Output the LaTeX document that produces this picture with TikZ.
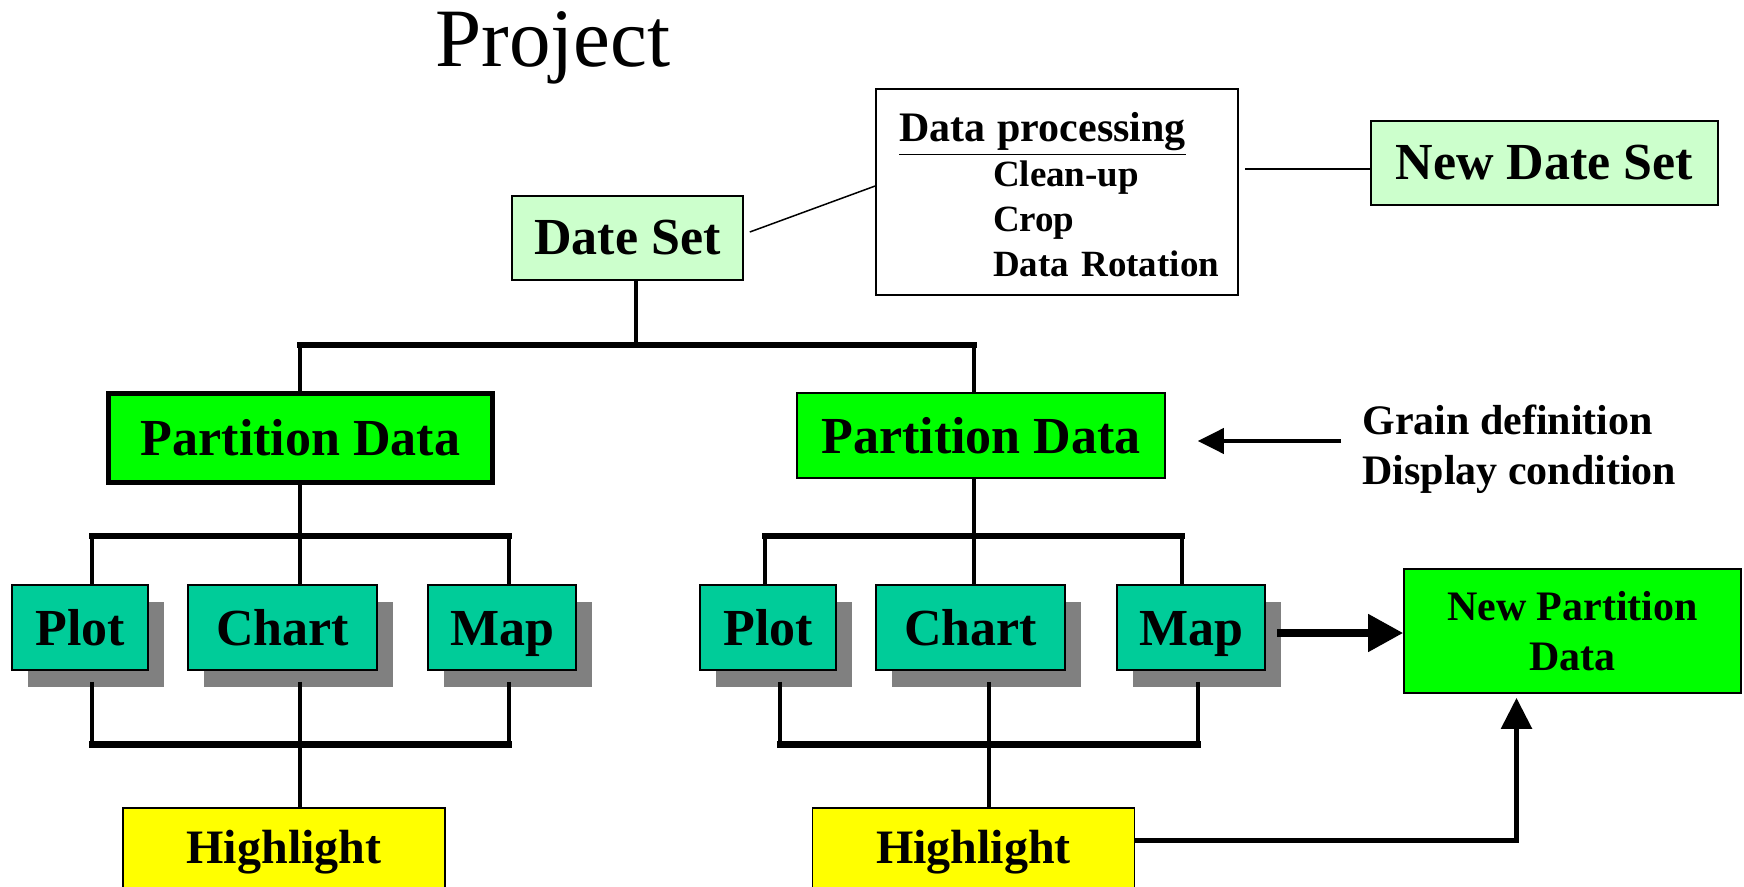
\documentclass[tikz,border=0pt]{standalone}
\usepackage{fontspec}
\setmainfont{Liberation Serif}
\usetikzlibrary{arrows.meta,shadows}

\definecolor{paleGreen}{HTML}{CCFFCC}
\definecolor{brightGreen}{HTML}{00FF00}
\definecolor{tealBox}{HTML}{00CC99}
\definecolor{hiYellow}{HTML}{FFFF00}
\definecolor{shadeGray}{HTML}{808080}

\begin{document}
\begin{tikzpicture}[x=0.5pt, y=-0.5pt,
		datebox/.style = {shape=rectangle, draw, line width=0.8pt, inner sep=0pt,
			font=\bfseries\fontsize{26}{30}\selectfont},
		setbox/.style = {datebox, fill=paleGreen, minimum height=42pt},
		partbox/.style = {datebox, fill=brightGreen},
		viewbox/.style = {datebox, fill=tealBox, minimum height=42.5pt,
			text height=17.7pt, text depth=0pt,
			drop shadow={shadow xshift=7.75pt, shadow yshift=-8.25pt,
				fill=shadeGray, opacity=1}},
		hlbox/.style = {datebox, fill=hiYellow, minimum width=161pt, minimum height=44pt,
			font=\bfseries\fontsize{24}{28}\selectfont},
		procbox/.style = {datebox, fill=white, minimum width=181pt, minimum height=103pt,
			text width=158pt, inner xsep=11.5pt, align=left,
			font=\bfseries\fontsize{18.5}{22.5}\selectfont},
		sidenote/.style = {inner sep=0pt, font=\bfseries\fontsize{21}{25}\selectfont},
		riser/.style = {line width=2pt},
		busbar/.style = {line width=3.3pt, line cap=rect},
		thinline/.style = {line width=0.75pt},
		fatarrow/.style = {line width=3.8pt, -{Triangle[length=17.5pt,width=18pt]}},
		hlarrow/.style = {line width=2.7pt, -{Triangle[length=15.5pt,width=15pt]}},
		grainarrow/.style = {line width=2pt, -{Triangle[length=13pt,width=12.5pt]}}]
		\useasboundingbox (0,0) rectangle (1744,887);
		\node[anchor=base, font=\fontsize{41.5}{50}\selectfont] (proj) at (553,67) {Project};
		
		\node[setbox, minimum width=115.5pt] (dset) at (627.5,238) {Date Set};
		\node[procbox] (proc) at (1057,192) {\rule{0pt}{17.6pt}{\fontsize{21}{22.5}\selectfont\underline{Data processing}}\\
			\hspace*{47pt}\mbox{Clean-up}\\
			\hspace*{47pt}\mbox{Crop}\\
			\hspace*{47pt}\mbox{Data Rotation}};
		\node[setbox, minimum width=173.5pt] (ndset) at (1544.5,163) {New Date Set};
		
		\node[partbox, line width=2.5pt, minimum width=192pt, minimum height=44.5pt] (partL) at (300.5,438) {Partition Data};
		\node[partbox, minimum width=184pt, minimum height=42.5pt] (partR) at (981,435.5) {Partition Data};
		\node[sidenote, anchor=base west] (grain) at (1362,434) {Grain definition};
		\node[sidenote, anchor=base west] (disp) at (1362,484) {Display condition};
		
		\node[viewbox, minimum width=68pt] (plotL) at (80,627.5) {Plot};
		\node[viewbox, minimum width=94.5pt] (chartL) at (282.5,627.5) {Chart};
		\node[viewbox, minimum width=74pt] (mapL) at (502,627.5) {Map};
		\node[viewbox, minimum width=68pt] (plotR) at (768,627.5) {Plot};
		\node[viewbox, minimum width=94.5pt] (chartR) at (970.5,627.5) {Chart};
		\node[viewbox, minimum width=74pt] (mapR) at (1191,627.5) {Map};
		\node[partbox, minimum width=168.5pt, minimum height=62pt, align=center,
			font=\bfseries\fontsize{21}{25}\selectfont] (npart) at (1572.5,631) {New Partition\\Data};
		
		\node[hlbox] (hlL) at (284,852) {Highlight};
		\node[hlbox] (hlR) at (973.5,852) {Highlight};
		
		% data set links
		\draw[thinline] ([xshift=3pt,yshift=3pt]dset.east) -- ([yshift=3pt]proc.west);
		\draw[thinline] ([yshift=-3pt]ndset.west) -- ++(-62.5pt,0);
		
		% top bus
		\coordinate (dsJoin) at (636,345);
		\coordinate (busA) at (300,345);
		\coordinate (busB) at (973.5,345);
		\draw[riser] (dsJoin |- dset.south) -- (dsJoin);
		\draw[busbar] (busA) -- (busB);
		\draw[riser] (busA) -- (busA |- partL.north);
		\draw[riser] (busB) -- (busB |- partR.north);
		
		% left group
		\coordinate (busLa) at (92,536);
		\coordinate (busLb) at (508.5,536);
		\coordinate (lowLa) at (92,744.5);
		\coordinate (lowLb) at (508.5,744.5);
		\draw[riser] (busA |- partL.south) -- (busA |- busLa);
		\draw[busbar] (busLa) -- (busLb);
		\draw[riser] (busLa) -- (busLa |- plotL.north);
		\draw[riser] (busA |- busLa) -- (busA |- chartL.north);
		\draw[riser] (busLb) -- (busLb |- mapL.north);
		\draw[riser, shorten <=5.5pt] (lowLa |- plotL.south) -- (lowLa);
		\draw[riser, shorten <=5.5pt] (lowLb |- mapL.south) -- (lowLb);
		\draw[busbar] (lowLa) -- (lowLb);
		\draw[riser, shorten <=5.5pt] (busA |- chartL.south) -- (busA |- hlL.north);
		
		% right group
		\coordinate (busRa) at (765,536);
		\coordinate (busRb) at (1182,536);
		\coordinate (lowRa) at (780,744.5);
		\coordinate (lowRm) at (989,744.5);
		\coordinate (lowRb) at (1198,744.5);
		\draw[riser] (busB |- partR.south) -- (busB |- busRa);
		\draw[busbar] (busRa) -- (busRb);
		\draw[riser] (busRa) -- (busRa |- plotR.north);
		\draw[riser] (busB |- busRa) -- (busB |- chartR.north);
		\draw[riser] (busRb) -- (busRb |- mapR.north);
		\draw[riser, shorten <=5.5pt] (lowRa |- plotR.south) -- (lowRa);
		\draw[riser, shorten <=5.5pt] (lowRb |- mapR.south) -- (lowRb);
		\draw[busbar] (lowRa) -- (lowRb);
		\draw[riser, shorten <=5.5pt] (lowRm |- chartR.south) -- (lowRm |- hlR.north);
		
		% arrows
		\coordinate (grainTail) at (1341,441);
		\draw[grainarrow, shorten >=16pt] (grainTail) -- (grainTail -| partR.east);
		\coordinate (mapTail) at (1277,633);
		\draw[fatarrow] (mapTail) -- (mapTail -| npart.west);
		\coordinate (hlBend) at (1516.5,840.5);
		\draw[hlarrow, shorten >=2pt] (hlBend -| hlR.east) -- (hlBend) -- (hlBend |- npart.south);
		\end{tikzpicture}
\end{document}
